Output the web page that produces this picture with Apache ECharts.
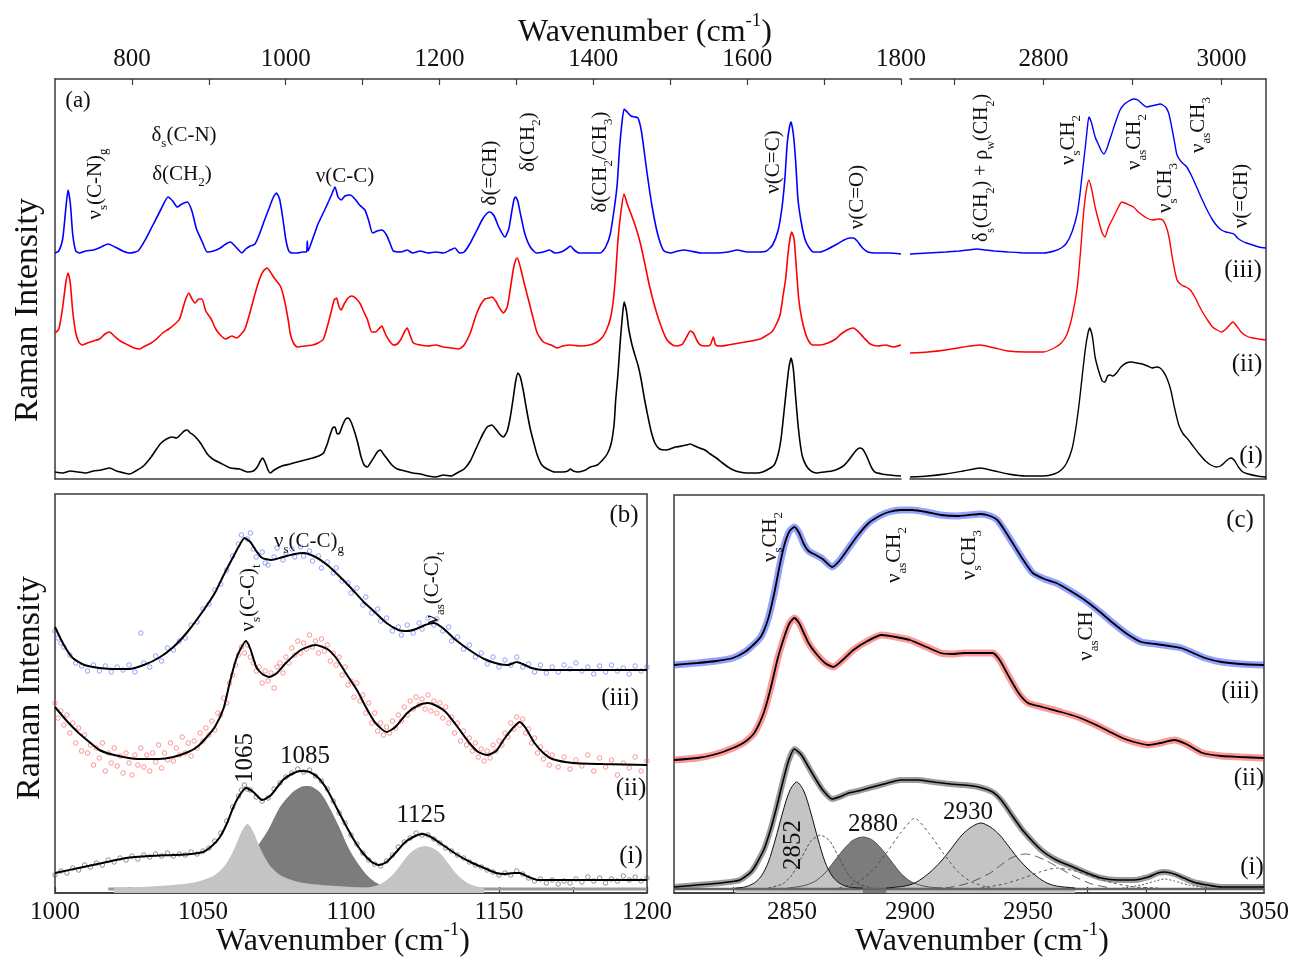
<!DOCTYPE html>
<html>
<head>
<meta charset="utf-8">
<script src="https://cdn.jsdelivr.net/npm/echarts@6/dist/echarts.min.js"></script>
<style>
html,body{margin:0;padding:0;background:#fff}
#chart{width:1292px;height:963px}
</style>
</head>
<body>
<div id="chart"></div>
<script>
// ---------- Panel (a), 700-1800 cm-1 : stacked spectra [wavenumber, intensity] ----------
const aLowIII = [[700,226],[705,228],[710,240],[714,270],[717,289],[720,275],[723,245],[727,228],[732,226],[740,228],[750,229],[760,232],[769,235],[778,232],[788,228],[797,226],[808,228],[818,240],[828,255],[838,270],[847,282],[853,278],[859,272],[865,275],[872,277],[878,268],[884,250],[891,238],[898,227],[906,228],[915,231],[922,235],[928,237],[934,233],[940,228],[943,226],[948,230],[954,233],[960,235],[966,245],[972,258],[978,270],[984,282],[988,286],[992,280],[996,262],[1000,240],[1004,228],[1008,226],[1015,226],[1022,227],[1027,227],[1028,238],[1029,228],[1035,240],[1042,255],[1050,268],[1056,278],[1060,285],[1064,292],[1068,282],[1072,279],[1077,283],[1084,284],[1090,280],[1096,274],[1103,269],[1108,258],[1113,246],[1119,248],[1125,249],[1131,244],[1136,235],[1140,228],[1150,227],[1158,229],[1165,226],[1175,228],[1185,226],[1195,227],[1205,226],[1214,229],[1220,231],[1226,226],[1232,227],[1240,236],[1248,248],[1256,260],[1262,266],[1266,267],[1271,263],[1277,252],[1285,242],[1290,250],[1294,268],[1297,280],[1299,282],[1302,277],[1306,262],[1311,245],[1318,232],[1326,226],[1335,227],[1343,229],[1350,226],[1358,227],[1365,230],[1370,233],[1375,229],[1382,226],[1395,226],[1409,226],[1416,232],[1422,245],[1428,275],[1431,295],[1434,330],[1437,355],[1440,370],[1444,367],[1449,363],[1454,362],[1458,361],[1462,350],[1465,334],[1470,305],[1476,274],[1482,250],[1487,236],[1492,228],[1500,226],[1510,228],[1518,229],[1526,228],[1540,226],[1560,226],[1575,227],[1587,229],[1600,227],[1615,227],[1625,228],[1633,234],[1640,248],[1645,270],[1649,300],[1652,335],[1655,352],[1657,357],[1660,345],[1663,318],[1666,280],[1670,258],[1675,240],[1680,232],[1686,227],[1695,227],[1705,230],[1717,235],[1726,239],[1733,241],[1738,241],[1743,238],[1750,231],[1757,227],[1770,226],[1785,226],[1800,225]];
const aLowII = [[700,146],[705,150],[710,172],[714,196],[717,206],[720,195],[723,168],[727,146],[731,137],[735,134],[742,136],[750,138],[758,140],[765,145],[771,147],[777,143],[785,138],[795,134],[803,131],[810,130],[817,133],[825,136],[832,140],[840,146],[848,150],[856,155],[862,160],[866,170],[870,180],[874,186],[878,180],[882,176],[887,180],[891,180],[896,168],[903,160],[909,150],[915,144],[922,140],[930,143],[936,141],[941,144],[947,150],[953,165],[960,185],[966,200],[971,208],[976,211],[980,207],[986,200],[993,193],[998,180],[1003,160],[1006,145],[1010,136],[1015,132],[1025,133],[1035,134],[1042,136],[1049,140],[1055,155],[1060,170],[1063,179],[1066,181],[1069,173],[1072,169],[1076,175],[1081,181],[1086,183],[1092,180],[1097,175],[1101,168],[1106,160],[1112,147],[1117,147],[1121,150],[1125,153],[1129,146],[1134,139],[1140,134],[1145,135],[1150,140],[1155,148],[1158,151],[1161,145],[1166,136],[1175,134],[1185,133],[1195,134],[1205,132],[1215,131],[1225,130],[1232,134],[1240,146],[1248,165],[1254,175],[1259,180],[1264,181],[1268,182],[1273,178],[1278,171],[1283,166],[1288,172],[1292,190],[1296,210],[1299,219],[1301,221],[1305,212],[1310,196],[1316,178],[1322,160],[1327,146],[1335,137],[1345,134],[1353,131],[1360,133],[1370,134],[1383,133],[1395,134],[1405,137],[1412,142],[1417,149],[1422,160],[1426,179],[1429,205],[1432,239],[1436,268],[1440,285],[1444,275],[1449,265],[1455,252],[1461,236],[1467,215],[1473,193],[1480,172],[1487,155],[1495,140],[1503,134],[1509,133],[1516,135],[1522,143],[1526,148],[1530,146],[1535,138],[1539,134],[1546,133],[1552,134],[1556,142],[1559,134],[1565,133],[1575,134],[1590,136],[1605,138],[1617,140],[1624,143],[1632,147],[1638,155],[1643,165],[1647,185],[1650,200],[1653,225],[1656,242],[1658,247],[1661,240],[1664,210],[1667,180],[1671,160],[1676,145],[1680,138],[1685,134],[1695,134],[1705,136],[1715,140],[1722,145],[1730,149],[1738,151],[1745,147],[1752,141],[1760,135],[1770,133],[1780,134],[1790,132],[1800,134]];
const aLowI = [[700,7],[710,6],[720,8],[730,7],[740,6],[750,8],[760,9],[771,11],[780,8],[790,6],[797,5],[805,8],[815,13],[825,22],[832,30],[838,36],[845,40],[852,42],[858,41],[864,45],[868,48],[872,49],[876,46],[880,44],[885,40],[890,35],[898,25],[905,20],[915,16],[928,11],[940,10],[950,7],[958,8],[963,12],[967,18],[970,21],[973,17],[977,9],[980,6],[985,9],[995,13],[1006,15],[1015,17],[1025,19],[1035,21],[1043,23],[1049,26],[1054,35],[1058,45],[1061,51],[1064,52],[1067,45],[1070,46],[1074,54],[1078,60],[1081,61],[1085,57],[1090,46],[1094,35],[1098,22],[1102,14],[1106,12],[1110,16],[1115,22],[1119,27],[1123,29],[1127,25],[1132,20],[1138,14],[1145,10],[1155,8],[1165,6],[1175,5],[1185,3],[1195,2],[1205,4],[1215,3],[1225,7],[1232,10],[1240,18],[1246,28],[1252,38],[1257,46],[1262,52],[1268,54],[1273,50],[1278,45],[1283,42],[1288,48],[1292,62],[1296,82],[1299,98],[1302,106],[1305,102],[1309,88],[1313,70],[1318,50],[1323,35],[1327,24],[1333,14],[1340,10],[1350,7],[1360,7],[1367,8],[1370,10],[1374,8],[1380,7],[1390,9],[1396,12],[1405,14],[1412,19],[1418,25],[1423,35],[1427,55],[1429,79],[1432,105],[1435,138],[1438,165],[1440,177],[1443,168],[1446,150],[1450,135],[1454,124],[1458,114],[1462,100],[1466,82],[1470,66],[1475,48],[1480,36],[1486,30],[1494,29],[1500,30],[1507,32],[1515,33],[1521,34],[1526,35],[1532,33],[1538,31],[1545,29],[1552,25],[1560,21],[1568,16],[1575,12],[1582,9],[1590,7],[1600,6],[1613,6],[1620,7],[1628,10],[1635,14],[1640,24],[1644,40],[1648,68],[1651,90],[1654,110],[1657,121],[1660,110],[1663,82],[1666,55],[1669,35],[1672,22],[1677,13],[1683,8],[1690,6],[1700,7],[1710,8],[1718,10],[1725,13],[1730,17],[1736,23],[1741,28],[1746,31],[1750,30],[1754,25],[1758,18],[1762,11],[1766,7],[1775,5],[1785,4],[1800,3]];

// ---------- Panel (a), 2650-3050 cm-1 ----------
const aHighIII = [[2650,225],[2670,226],[2690,227],[2705,228],[2715,229],[2725,230],[2735,229],[2745,228],[2760,227],[2780,226],[2800,226],[2812,228],[2820,231],[2826,236],[2832,247],[2838,266],[2841,285],[2844,309],[2847,332],[2849,349],[2851,362],[2854,356],[2858,342],[2862,334],[2865,328],[2868,325],[2871,330],[2874,338],[2877,346],[2881,357],[2886,369],[2891,375],[2896,378],[2901,380],[2906,379],[2911,375],[2916,372],[2921,373],[2926,374],[2931,375],[2934,374],[2938,371],[2941,365],[2944,352],[2947,338],[2950,324],[2955,317],[2961,312],[2967,302],[2973,290],[2979,278],[2985,267],[2990,259],[2995,253],[3000,249],[3005,247],[3010,246],[3014,245],[3018,241],[3023,238],[3028,236],[3035,234],[3042,232],[3050,231]];
const aHighII = [[2650,126],[2670,127],[2690,129],[2710,132],[2729,134],[2745,131],[2760,128],[2780,127],[2800,127],[2812,131],[2820,136],[2826,144],[2832,162],[2838,192],[2842,232],[2845,266],[2848,288],[2851,299],[2854,290],[2858,272],[2862,258],[2866,246],[2869,242],[2873,252],[2877,259],[2882,268],[2888,277],[2894,275],[2901,272],[2908,266],[2916,261],[2923,259],[2929,260],[2934,259],[2938,252],[2941,242],[2945,220],[2950,199],[2955,194],[2960,192],[2965,189],[2970,182],[2975,173],[2980,165],[2985,158],[2990,152],[2995,149],[3000,147],[3005,150],[3010,155],[3013,157],[3017,153],[3022,147],[3028,143],[3035,141],[3042,140],[3050,139]];
const aHighI = [[2650,2],[2670,3],[2690,5],[2710,8],[2729,11],[2745,8],[2760,5],[2780,3],[2800,3],[2812,5],[2820,9],[2826,16],[2832,30],[2836,49],[2840,75],[2843,99],[2847,130],[2850,146],[2852,151],[2855,142],[2858,122],[2862,108],[2866,98],[2869,97],[2872,103],[2875,104],[2878,103],[2882,106],[2887,112],[2893,116],[2899,117],[2905,116],[2911,115],[2917,113],[2922,111],[2927,112],[2931,111],[2935,107],[2939,100],[2943,89],[2947,72],[2952,54],[2957,45],[2962,40],[2968,33],[2975,25],[2982,18],[2988,14],[2994,12],[2999,13],[3004,17],[3008,20],[3011,21],[3015,18],[3019,12],[3024,7],[3030,5],[3040,3],[3050,2]];

// ---------- Panel (b), 1000-1200 cm-1 : measured points and fits ----------
const bObsIII = [[1000,262],[1001,255],[1002,250],[1003,246],[1005,238],[1007,230],[1009,227],[1011,222],[1013,228],[1015,222],[1017,227],[1019,221],[1021,226],[1023,223],[1025,228],[1027,221],[1029,260],[1030,230],[1032,226],[1034,237],[1036,232],[1038,245],[1040,243],[1042,252],[1044,255],[1046,268],[1048,271],[1050,284],[1052,289],[1054,303],[1056,309],[1058,323],[1060,337],[1062,349],[1063,358],[1065,354],[1066,360],[1067,344],[1068,336],[1070,341],[1071,330],[1072,328],[1074,336],[1075,345],[1077,333],[1078,340],[1080,344],[1081,336],[1083,346],[1084,337],[1086,342],[1087,332],[1089,337],[1090,325],[1092,331],[1094,320],[1095,325],[1097,312],[1099,310],[1100,300],[1102,305],[1104,288],[1105,296],[1107,280],[1109,284],[1110,272],[1112,275],[1114,262],[1116,266],[1117,258],[1119,268],[1121,260],[1123,270],[1124,264],[1126,275],[1128,268],[1129,274],[1131,262],[1133,266],[1134,252],[1136,256],[1138,244],[1140,248],[1142,236],[1144,240],[1146,229],[1148,236],[1150,226],[1152,233],[1154,228],[1156,236],[1158,226],[1160,229],[1162,221],[1164,228],[1166,220],[1168,226],[1170,221],[1172,228],[1174,224],[1176,230],[1178,222],[1180,226],[1182,219],[1184,227],[1186,221],[1188,228],[1190,222],[1192,225],[1194,219],[1196,227],[1198,222],[1200,226]];
const bFitIII = [[1000,266],[1003,248],[1006,235],[1010,228],[1015,225],[1020,224],[1025,224],[1030,228],[1035,235],[1040,246],[1045,262],[1050,282],[1054,300],[1057,318],[1060,335],[1062,346],[1064,355],[1066,351],[1068,342],[1070,335],[1073,333],[1077,336],[1081,339],[1084,340],[1088,336],[1092,328],[1096,317],[1100,305],[1104,292],[1108,281],[1112,270],[1116,263],[1119,262],[1122,264],[1125,268],[1128,270],[1131,265],[1135,254],[1140,243],[1145,234],[1150,229],[1153,228],[1156,231],[1158,229],[1161,225],[1165,223],[1175,223],[1200,223]];
const bObsII = [[1000,190],[1001,175],[1002,182],[1003,168],[1004,178],[1005,160],[1006,170],[1007,150],[1008,165],[1009,142],[1010,158],[1011,140],[1012,148],[1013,128],[1014,145],[1015,135],[1016,150],[1017,122],[1018,140],[1019,130],[1020,145],[1021,127],[1022,137],[1023,120],[1024,140],[1025,130],[1026,118],[1027,138],[1028,128],[1029,145],[1030,126],[1031,138],[1032,122],[1033,140],[1034,131],[1035,148],[1036,125],[1037,140],[1038,133],[1039,150],[1040,132],[1041,145],[1042,138],[1043,156],[1044,140],[1045,150],[1046,137],[1047,152],[1048,145],[1049,160],[1050,152],[1051,165],[1052,158],[1053,172],[1054,163],[1055,180],[1056,178],[1057,195],[1058,190],[1059,210],[1060,218],[1061,228],[1062,238],[1063,246],[1064,240],[1065,248],[1066,236],[1067,230],[1068,222],[1069,226],[1070,210],[1071,222],[1072,212],[1073,220],[1074,205],[1075,226],[1076,230],[1077,220],[1078,236],[1079,230],[1080,245],[1081,238],[1082,252],[1083,240],[1084,250],[1085,244],[1086,258],[1087,246],[1088,252],[1089,240],[1090,254],[1091,242],[1092,248],[1093,232],[1094,240],[1095,228],[1096,236],[1097,218],[1098,226],[1099,208],[1100,212],[1101,196],[1102,210],[1103,192],[1104,198],[1105,180],[1106,190],[1107,170],[1108,180],[1109,162],[1110,170],[1111,158],[1112,166],[1113,160],[1114,172],[1115,165],[1116,178],[1117,172],[1118,186],[1119,178],[1120,192],[1121,184],[1122,196],[1123,188],[1124,194],[1125,184],[1126,198],[1127,182],[1128,192],[1129,180],[1130,190],[1131,175],[1132,186],[1133,170],[1134,176],[1135,160],[1136,170],[1137,152],[1138,162],[1139,148],[1140,155],[1141,142],[1142,150],[1143,136],[1144,144],[1145,132],[1146,142],[1147,135],[1148,148],[1149,142],[1150,152],[1151,148],[1152,160],[1153,156],[1154,170],[1155,164],[1156,176],[1157,168],[1158,174],[1159,160],[1160,164],[1161,150],[1162,155],[1163,140],[1164,146],[1165,134],[1166,140],[1167,128],[1168,138],[1170,126],[1172,136],[1174,124],[1176,133],[1178,127],[1180,138],[1182,122],[1184,135],[1186,126],[1188,133],[1190,118],[1192,130],[1194,125],[1196,136],[1198,122],[1200,132]];
const bFitII = [[1000,186],[1004,172],[1008,160],[1012,150],[1015,143],[1020,138],[1028,134],[1035,134],[1040,136],[1045,141],[1048,146],[1051,155],[1054,166],[1057,185],[1059,210],[1061,232],[1062.5,243],[1064.5,252],[1066,244],[1068,226],[1070,219],[1072.5,216],[1075,220],[1078,230],[1083,243],[1088,248],[1092,244],[1095,235],[1098,221],[1102,203],[1105,186],[1108,171],[1112,161],[1115,166],[1119,180],[1123,188],[1126,190],[1129,187],[1132,181],[1136,166],[1140,150],[1143,141],[1146,138],[1149,142],[1152,155],[1155,166],[1157,171],[1159,165],[1162,150],[1165,140],[1168,134],[1175,130],[1185,129],[1200,128]];
const bObsI = [[1000,18],[1002,22],[1004,20],[1006,25],[1008,23],[1010,28],[1012,26],[1014,30],[1016,28],[1018,33],[1020,31],[1022,35],[1024,33],[1026,37],[1028,34],[1030,38],[1032,36],[1034,39],[1036,37],[1038,40],[1040,37],[1042,39],[1044,38],[1046,41],[1048,39],[1050,42],[1052,45],[1054,52],[1056,60],[1058,72],[1060,86],[1062,97],[1063,103],[1064,108],[1065,104],[1066,103],[1068,96],[1070,92],[1072,95],[1074,104],[1076,110],[1078,116],[1080,120],[1082,124],[1084,121],[1086,123],[1088,117],[1090,112],[1092,104],[1094,92],[1096,80],[1098,70],[1100,58],[1102,49],[1104,40],[1106,33],[1108,29],[1110,27],[1112,32],[1114,38],[1116,46],[1118,51],[1120,55],[1122,60],[1124,58],[1126,58],[1128,54],[1130,50],[1132,45],[1134,42],[1136,38],[1138,35],[1140,31],[1142,28],[1144,26],[1146,23],[1148,21],[1150,18],[1152,20],[1154,18],[1156,22],[1158,19],[1160,15],[1162,12],[1164,14],[1166,10],[1168,13],[1170,9],[1172,12],[1174,10],[1176,14],[1178,11],[1180,16],[1182,12],[1184,15],[1186,10],[1188,14],[1190,12],[1192,17],[1194,13],[1196,16],[1198,12],[1200,15]];
const bFitI = [[1000,20],[1008,25],[1016,30],[1024,35],[1032,37],[1040,38],[1046,39],[1050,41],[1053,47],[1055.5,55],[1058,69],[1060,84],[1062,96],[1064.5,105],[1067,101],[1070,93],[1073,98],[1077,113],[1080,119],[1083,122],[1086,121],[1089,115],[1092,103],[1095,86],[1098,69],[1101,53],[1104,40],[1107,31],[1109.5,28],[1112,31],[1115,40],[1118,50],[1121,56],[1124,59],[1127,56],[1132,46],[1136,38],[1141,30],[1145,25],[1149,20],[1152,19],[1155,20],[1157,20],[1160,16],[1163,13],[1175,13],[1200,13]];
// fitted components of spectrum (i)
const bPeak1065 = [[1020,5],[1030,6],[1040,8],[1046,10],[1050,13],[1054,18],[1057,26],[1059,35],[1061,47],[1063,61],[1065,69],[1067,61],[1069,47],[1071,35],[1073,26],[1076,18],[1080,13],[1084,10],[1090,8],[1100,6],[1110,5]];
const bPeak1085 = [[1040,5],[1050,6],[1056,9],[1060,16],[1064,29],[1068,45],[1072,63],[1076,86],[1080,100],[1083,106],[1085,107],[1087,106],[1090,99],[1093,84],[1096,66],[1099,46],[1102,31],[1106,16],[1110,8],[1116,5.5],[1125,5]];
const bPeak1125 = [[1105,5],[1110,9],[1114,18],[1117,29],[1120,40],[1122.5,45],[1125,47],[1127.5,45],[1130,40],[1133,29],[1136,18],[1140,9],[1145,5]];
const bBase = [[1018,4],[1200,4]];

// ---------- Panel (c), 2800-3050 cm-1 ----------
const cFitIII = [[2800,228],[2810,230],[2818,232],[2825,235],[2830,241],[2834,249],[2837,257],[2840,275],[2842.5,300],[2845,330],[2847,350],[2849,362],[2851,366],[2853,360],[2855,349],[2857,342],[2860,338],[2863,334],[2867,326],[2870,332],[2874,345],[2878,358],[2882.5,370],[2887,377],[2891,381],[2896,383],[2901,383],[2907,381],[2913,378],[2920,377],[2925,378],[2930,379],[2934,377],[2937,373],[2940,363],[2944,348],[2948,333],[2952,320],[2957,314],[2962,310],[2968,302],[2974,293],[2980,282],[2986,270],[2992,259],[2998,251],[3004,249],[3010,247],[3015,245],[3020,240],[3025,235],[3032,231],[3040,229],[3050,228]];
const cFitII = [[2800,133],[2810,135],[2818,139],[2825,145],[2830,151],[2834,160],[2838,180],[2841,205],[2844,235],[2847,258],[2849,270],[2851,275],[2853,270],[2855,260],[2857,250],[2860,240],[2864,230],[2867.5,226],[2871,232],[2876,243],[2882,252],[2888,258],[2894,256],[2900,253],[2907,246],[2913,240],[2918,239],[2923,240],[2929,240],[2935,240],[2938,233],[2942,216],[2946,200],[2950,190],[2956,186],[2964,181],[2971,176],[2978,169],[2984,162],[2990,155],[2995,151],[3001,148],[3006,150],[3012,153],[3017,149],[3024,140],[3032,137],[3040,136],[3050,135]];
const cFitI = [[2800,6],[2810,8],[2820,10],[2828,13],[2833,22],[2838,43],[2841,64],[2843.5,86],[2846,110],[2848.5,132],[2851,144],[2854,138],[2857,126],[2860,114],[2863,103],[2867,94],[2870,96],[2874,100],[2878,102],[2882.5,105],[2889,109],[2896,113],[2903,113],[2910,111],[2917,109],[2923,108],[2929,106],[2935,101],[2939,92],[2943.7,76],[2948,62],[2955.6,43],[2962,33],[2969,26],[2975,20],[2981,15],[2988,13],[2995,13],[3001,16],[3005,20],[3008,21],[3012,19],[3016,15],[3020,11],[3026,8],[3032,6],[3040,6],[3050,6]];
// fitted components of spectrum (i)
const cPeak2852 = [[2826,5],[2830,6],[2834,10],[2837,17],[2840,31],[2843,54],[2846,80],[2849,102],[2852,111],[2855,102],[2858,80],[2861,54],[2864,31],[2867,17],[2870,10],[2874,6],[2880,5]];
const cPeak2880 = [[2848,5],[2852,6],[2856,8],[2860,12],[2864,20],[2868,32],[2872,44],[2876,53],[2880,56],[2884,53],[2888,44],[2892,32],[2896,20],[2900,12],[2904,8],[2908,6],[2914,5]];
const cPeak2930 = [[2890,5],[2898,7],[2902,10],[2906,16],[2910,24],[2914,34],[2918,46],[2922,58],[2926,66],[2930,70],[2934,66],[2938,58],[2942,46],[2946,34],[2950,24],[2954,16],[2958,10],[2962,7],[2970,5]];
const cPeak2862 = [[2840,5],[2846,9],[2850,18],[2854,35],[2858,52],[2862,58],[2866,52],[2870,35],[2874,18],[2878,9],[2884,5]];
const cPeak2904 = [[2870,5],[2878,11],[2884,22],[2890,40],[2896,60],[2902,75],[2908,60],[2914,40],[2920,22],[2926,11],[2934,5]];
const cPeak2948 = [[2915,5],[2922,8],[2928,13],[2934,20],[2938,27],[2942,34],[2946,38],[2949,39],[2953,37],[2958,32],[2964,24],[2970,16],[2977,9],[2985,5]];
const cPeak2962 = [[2930,5],[2940,9],[2948,15],[2955,21],[2962,25],[2970,22],[2978,16],[2986,10],[2995,6],[3005,5]];
const cPeak3010 = [[2990,5],[2998,8],[3004,12],[3008,14],[3012,12],[3018,8],[3026,5]];
const cBase = [[2800,4],[3050,4]];

// ---------- tick positions ----------
const aLowTicks = [800,900,1000,1100,1200,1300,1400,1500,1600,1700,1800];
const aLowLabels = [800,1000,1200,1400,1600,1800];
const aHighTicks = [2700,2800,2900,3000];
const aHighLabels = [2800,3000];
const bTicks = [1000,1025,1050,1075,1100,1125,1150,1175,1200];
const bLabels = [1000,1050,1100,1150,1200];
const cTicks = [2825,2850,2875,2900,2925,2950,2975,3000,3025];
const cLabels = [2850,2900,2950,3000,3050];

// ---------- styling helpers ----------
const FONT = 'Liberation Serif';
const FRAME = '#3a3a3a';
const BLUE = '#0000ff', RED = '#ff0000', BLACK = '#000000';

function line(data, xi, yi, color, width, extra) {
  return Object.assign({
    type: 'line', data: data, xAxisIndex: xi, yAxisIndex: yi,
    showSymbol: false, symbol: 'none', smooth: 0.2, silent: true,
    lineStyle: { color: color, width: width }, z: 4
  }, extra || {});
}
function dots(data, xi, yi, color) {
  return {
    type: 'scatter', data: data, xAxisIndex: xi, yAxisIndex: yi, silent: true,
    symbol: 'circle', symbolSize: 4.5, z: 3,
    itemStyle: { color: 'rgba(0,0,0,0)', borderColor: color, borderWidth: 0.8 }
  };
}
function area(data, xi, yi, fill, edge, z) {
  return {
    type: 'line', data: data, xAxisIndex: xi, yAxisIndex: yi,
    showSymbol: false, symbol: 'none', smooth: 0.3, silent: true,
    lineStyle: { color: edge, width: edge ? 1 : 0 },
    areaStyle: { color: fill, opacity: 1 }, z: z
  };
}
function dash(data, xi, yi, type) {
  return line(data, xi, yi, '#444', 0.9, { lineStyle: { color: '#444', width: 0.9, type: type }, z: 2 });
}

function frameAxis(grid, pos, min, max, ticks, labels) {
  return {
    type: 'value', gridIndex: grid, position: pos, min: min, max: max,
    axisLine: { show: true, onZero: false, lineStyle: { color: FRAME, width: 1.5 } },
    axisTick: ticks ? { show: true, inside: true, length: 6, customValues: ticks, lineStyle: { color: FRAME, width: 1.2 } } : { show: false },
    axisLabel: labels ? {
      show: true, customValues: labels, fontFamily: FONT, fontSize: 25, color: '#111', margin: 7,
      formatter: function (v) { return String(v); }
    } : { show: false },
    splitLine: { show: false }
  };
}
function plainY(grid, pos, max, showLine) {
  return {
    type: 'value', gridIndex: grid, position: pos, min: 0, max: max,
    axisLine: { show: showLine, onZero: false, lineStyle: { color: FRAME, width: 1.5 } },
    axisTick: { show: false }, axisLabel: { show: false }, splitLine: { show: false }
  };
}

// text with sub/superscripts
function txt(str, x, y, size, rot) {
  const sub = Math.round(size * 0.6);
  return {
    type: 'text', x: x, y: y, rotation: rot ? Math.PI / 2 : 0, silent: true, z: 100,
    style: {
      text: str, align: 'center', verticalAlign: 'middle', fill: '#111',
      fontFamily: FONT, fontSize: size, lineHeight: size + 10,
      rich: {
        s: { fontFamily: FONT, fontSize: sub, fill: '#111', verticalAlign: 'bottom' },
        p: { fontFamily: FONT, fontSize: sub, fill: '#111', verticalAlign: 'top' }
      }
    }
  };
}

const texts = [
  txt('Wavenumber (cm{p|-1})', 645, 33, 32, false),
  txt('Wavenumber (cm{p|-1})', 343, 942, 32, false),
  txt('Wavenumber (cm{p|-1})', 982, 942, 32, false),
  txt('Raman Intensity', 28, 310, 34, true),
  txt('Raman Intensity', 30, 688, 34, true),
  // panel (a)
  txt('(a)', 78, 101, 23, false),
  txt('ν{s|s}(C-N){s|g}', 95, 184, 21, true),
  txt('δ{s|s}(C-N)', 184, 135, 21, false),
  txt('δ(CH{s|2})', 182, 174, 21, false),
  txt('ν(C-C)', 345, 176, 21, false),
  txt('δ(=CH)', 490, 173, 21, true),
  txt('δ(CH{s|2})', 528, 142, 21, true),
  txt('δ(CH{s|2}/CH{s|3})', 600, 162, 21, true),
  txt('ν(C=C)', 773, 162, 21, true),
  txt('ν(C=O)', 857, 197, 21, true),
  txt('δ{s|s}(CH{s|2}) + ρ{s|w}(CH{s|2})', 982, 168, 20, true),
  txt('ν{s|s}CH{s|2}', 1068, 140, 21, true),
  txt('ν{s|as}CH{s|2}', 1134, 142, 21, true),
  txt('ν{s|s}CH{s|3}', 1165, 188, 21, true),
  txt('ν{s|as}CH{s|3}', 1198, 125, 21, true),
  txt('ν(=CH)', 1241, 196, 21, true),
  txt('(iii)', 1243, 270, 25, false),
  txt('(ii)', 1247, 364, 25, false),
  txt('(i)', 1251, 456, 25, false),
  // panel (b)
  txt('(b)', 624, 515, 25, false),
  txt('ν{s|s}(C-C){s|g}', 309, 541, 21, false),
  txt('ν{s|s}(C-C){s|t}', 248, 598, 21, true),
  txt('ν{s|as}(C-C){s|t}', 432, 588, 21, true),
  txt('(iii)', 620, 698, 25, false),
  txt('(ii)', 631, 788, 25, false),
  txt('(i)', 631, 856, 25, false),
  txt('1065', 245, 758, 25, true),
  txt('1085', 305, 756, 25, false),
  txt('1125', 421, 815, 25, false),
  // panel (c)
  txt('(c)', 1240, 520, 25, false),
  txt('ν{s|s}CH{s|2}', 770, 537, 21, true),
  txt('ν{s|as}CH{s|2}', 894, 555, 21, true),
  txt('ν{s|s}CH{s|3}', 969, 555, 21, true),
  txt('ν{s|as}CH', 1086, 636, 21, true),
  txt('(iii)', 1240, 691, 25, false),
  txt('(ii)', 1249, 778, 25, false),
  txt('(i)', 1252, 867, 25, false),
  txt('2852', 793, 845, 25, true),
  txt('2880', 873, 824, 25, false),
  txt('2930', 968, 812, 25, false)
];

const chart = echarts.init(document.getElementById('chart'), null, { renderer: 'canvas' });
chart.setOption({
  backgroundColor: '#ffffff',
  animation: false,
  grid: [
    { left: 55, top: 79, width: 846, height: 400 },
    { left: 910, top: 79, width: 356, height: 400 },
    { left: 55, top: 494, width: 592, height: 399, show: true, borderColor: FRAME, borderWidth: 1.5 },
    { left: 674, top: 495, width: 593, height: 398, show: true, borderColor: FRAME, borderWidth: 1.5 }
  ],
  xAxis: [
    frameAxis(0, 'top', 700, 1800, aLowTicks, aLowLabels),
    frameAxis(0, 'bottom', 700, 1800, null, null),
    frameAxis(1, 'top', 2650, 3050, aHighTicks, aHighLabels),
    frameAxis(1, 'bottom', 2650, 3050, null, null),
    frameAxis(2, 'bottom', 1000, 1200, bTicks, bLabels),
    frameAxis(3, 'bottom', 2800, 3050, cTicks, cLabels)
  ],
  yAxis: [
    plainY(0, 'left', 400, true),
    plainY(1, 'right', 400, true),
    plainY(2, 'left', 399, false),
    plainY(3, 'left', 398, false)
  ],
  graphic: texts,
  series: [
    // (a) fingerprint region
    line(aLowIII, 0, 0, BLUE, 1.6),
    line(aLowII, 0, 0, RED, 1.6),
    line(aLowI, 0, 0, BLACK, 1.6),
    // (a) C-H stretching region
    line(aHighIII, 2, 1, BLUE, 1.4),
    line(aHighII, 2, 1, RED, 1.4),
    line(aHighI, 2, 1, BLACK, 1.4),
    // (b) components of (i): dark band underneath, light bands above
    line(bBase, 4, 2, '#9a9a9a', 3, { smooth: false, z: 1 }),
    area(bPeak1085, 4, 2, '#7c7c7c', null, 1),
    area(bPeak1065, 4, 2, '#c4c4c4', null, 2),
    area(bPeak1125, 4, 2, '#c4c4c4', null, 2),
    // (b) measured points and fits
    dots(bObsIII, 4, 2, '#5a6cff'),
    dots(bObsII, 4, 2, '#ff5a5a'),
    dots(bObsI, 4, 2, '#555555'),
    line(bFitIII, 4, 2, BLACK, 2),
    line(bFitII, 4, 2, BLACK, 2),
    line(bFitI, 4, 2, BLACK, 2),
    // (c) components of (i)
    line(cBase, 5, 3, '#666666', 2.5, { smooth: false, z: 1 }),
    dash(cPeak2862, 5, 3, [3, 2]),
    dash(cPeak2904, 5, 3, [3, 3]),
    dash(cPeak2948, 5, 3, [9, 5]),
    dash(cPeak2962, 5, 3, [3, 3]),
    dash(cPeak3010, 5, 3, [2, 2]),
    area(cPeak2880, 5, 3, '#7c7c7c', '#555555', 1),
    area(cPeak2852, 5, 3, '#c4c4c4', '#111111', 1),
    area(cPeak2930, 5, 3, '#c4c4c4', '#111111', 1),
    // (c) measured bands and fits
    line(cFitIII, 5, 3, 'rgba(40,70,255,0.5)', 7, { z: 3 }),
    line(cFitII, 5, 3, 'rgba(255,50,50,0.5)', 7, { z: 3 }),
    line(cFitI, 5, 3, 'rgba(90,90,90,0.6)', 6, { z: 3 }),
    line(cFitIII, 5, 3, BLACK, 1.8),
    line(cFitII, 5, 3, BLACK, 1.8),
    line(cFitI, 5, 3, BLACK, 1.6)
  ]
});
</script>
</body>
</html>
